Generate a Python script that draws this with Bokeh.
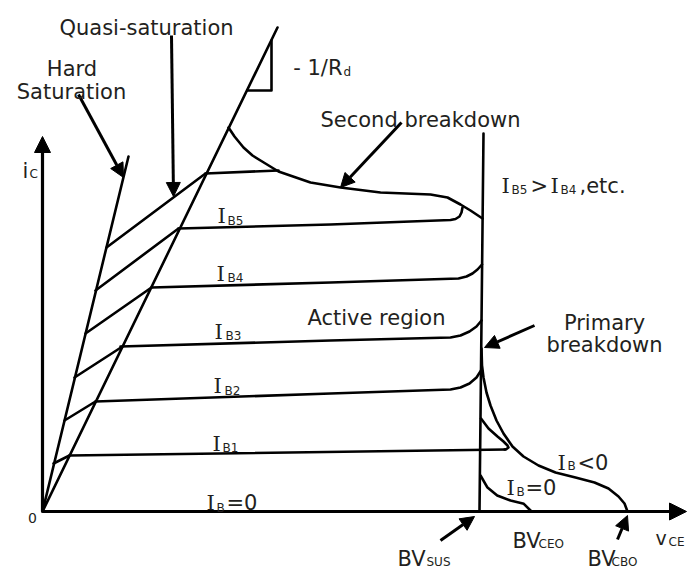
from bokeh.plotting import figure
from bokeh.models import Range1d, Arrow, NormalHead, Label
from bokeh.embed import file_html
from bokeh.resources import INLINE

# ---- diagram values (v_CE to the right, i_C upward, origin at O) ----
hard_sat_v = [0, 86]
hard_sat_i = [0, 355]
quasi_sat_v = [0, 235]
quasi_sat_i = [0, 484]
slope_tri_v = [205, 229, 229]
slope_tri_i = [421, 421, 471]
hatch_v = [[64, 163], [53, 136], [43, 109], [32, 80], [22, 53], [11, 27]]
hatch_i = [[264, 338], [221, 283], [178, 224], [134, 165], [91, 110], [48, 56]]
ib6_v = [163, 236]
ib6_i = [338, 341]
ib5_v = [136, 288, 408, 413, 417, 419, 420]
ib5_i = [283, 287, 291.5, 292.5, 295, 299, 304]
ib4_v = [109, 288, 416, 424, 430, 435, 439.5]
ib4_i = [224, 229, 233, 235, 238, 242, 247]
ib3_v = [78, 288, 408, 418, 427, 434, 439]
ib3_i = [165, 171, 174, 176, 180, 185, 191]
ib2_v = [53, 288, 408, 418, 427, 434, 438.5]
ib2_i = [110, 118, 122, 124, 128, 134, 141]
ib1_v = [27, 463]
ib1_i = [56, 62]
ib1_tip_v = [438.5, 446, 455, 461, 465, 466, 464, 462]
ib1_tip_i = [93, 83, 75, 70, 66, 64, 62.5, 62]
second_bd_v = [186, 192, 201, 210, 218, 236, 268, 298, 338, 388, 405, 418, 428, 440]
second_bd_i = [384, 375, 364, 356, 351, 340, 329, 324, 319, 317, 314, 307, 301, 293]
bvsus_v = [437, 441]
bvsus_i = [0, 378]
ib0_bd_v = [438, 444.7, 454.7, 468, 481.3, 488, 489]
ib0_bd_i = [36, 24.3, 16, 11, 7.7, 1, 0]
ibneg_v = [439, 439.5, 441, 444, 448, 454, 461, 470, 481, 496, 513, 533, 552, 566, 576, 582, 585]
ibneg_i = [163, 146, 134, 119, 106, 91, 78, 65, 55, 46, 39, 34, 29, 23, 15, 8, 0]

v_axis_end = 644
i_axis_end = 375

INK = "black"
TXT = "#231f20"
SANS = "DejaVu Sans"
SERIF = "DejaVu Serif"
FS = 21

p = figure(width=693, height=572,
           x_range=Range1d(-42, 651), y_range=Range1d(-61, 511),
           x_axis_location=None, y_axis_location=None,
           output_backend="svg", toolbar_location=None, min_border=0)
p.grid.visible = False
p.outline_line_color = None
p.background_fill_color = "white"
p.border_fill_color = "white"

LW = 2.6
def curve(xs, ys, w=LW):
    p.line(xs, ys, line_color=INK, line_width=w, line_join="round", line_cap="round")

curve(hard_sat_v, hard_sat_i)
curve(quasi_sat_v, quasi_sat_i)
curve(slope_tri_v, slope_tri_i)
for hv, hi in zip(hatch_v, hatch_i):
    curve(hv, hi)
curve(ib6_v, ib6_i)
curve(ib5_v, ib5_i)
curve(ib4_v, ib4_i)
curve(ib3_v, ib3_i)
curve(ib2_v, ib2_i)
curve(ib1_v, ib1_i)
curve(ib1_tip_v, ib1_tip_i)
curve(second_bd_v, second_bd_i)
curve(bvsus_v, bvsus_i)
curve(ib0_bd_v, ib0_bd_i)
curve(ibneg_v, ibneg_i)

def arrow(x0, y0, x1, y1, size=14, w=3):
    p.add_layout(Arrow(end=NormalHead(size=size, fill_color=INK, line_color=INK, line_width=1),
                       x_start=x0, y_start=y0, x_end=x1, y_end=y1,
                       line_color=INK, line_width=w))

# axes
arrow(0, 0, 0, i_axis_end, size=16, w=3.2)
arrow(0, 0, v_axis_end, 0, size=17, w=3.2)

# pointer arrows
arrow(36, 417, 81, 334)
arrow(129, 476, 131, 315)
arrow(359, 389, 298, 324)
arrow(492, 186, 442, 164)
arrow(398, -29, 432, -5)
arrow(575, -28, 585, -4)

def lab(t, x, y, size=FS, font=SANS, align="left"):
    p.add_layout(Label(x=x, y=y, text=t, text_font=font, text_font_size=f"{size}px",
                       text_align=align, text_baseline="alphabetic", text_color=TXT))

lab("Quasi-saturation", 104, 484, align="center")
lab("Hard", 29.5, 443, align="center")
lab("Saturation", 29, 420, align="center")
lab("- 1/R", 300, 444, align="right")
lab("d", 301, 440, size=12)
lab("Second breakdown", 378, 392, align="center")

lab("I", 459, 326, font=SERIF)
lab("B5", 469, 322, size=12)
lab(">", 488, 326)
lab("I", 508, 326, font=SERIF)
lab("B4", 518, 322, size=12)
lab(",etc.", 537, 326)

ib_subs = ["B5", "B4", "B3", "B2", "B1"]
ib_I_pos = [(175, 296), (174, 238), (172, 180), (171, 126), (170, 68)]
ib_sub_pos = [(185, 291), (185, 234), (183, 176), (182, 121), (180, 64)]
for s, (ix, iy), (sx, sy) in zip(ib_subs, ib_I_pos, ib_sub_pos):
    lab("I", ix, iy, font=SERIF)
    lab(s, sx, sy, size=12)

lab("I", 164, 9, font=SERIF)
lab("B", 174, 4, size=12)
lab("=0", 184, 9)

lab("Active region", 334, 194, align="center")
lab("Primary", 562, 189, align="center")
lab("breakdown", 562, 167, align="center")

lab("I", 515, 49, font=SERIF)
lab("B", 525, 46, size=12)
lab("<0", 535, 49)

lab("I", 464, 24, font=SERIF)
lab("B", 474, 20, size=12)
lab("=0", 483, 24)

lab("BV", 355, -47)
lab("SUS", 384, -50, size=12)
lab("BV", 470, -29)
lab("CEO", 496, -32, size=12)
lab("BV", 545, -47)
lab("CBO", 569, -50, size=12)

lab("v", 613, -26, size=19)
lab("CE", 626, -30, size=12)
lab("i", -20, 341)
lab("C", -13, 338, size=12)
lab("0", -10, -6, size=14, align="center")

open("out.html", "w").write(file_html(p, INLINE))
